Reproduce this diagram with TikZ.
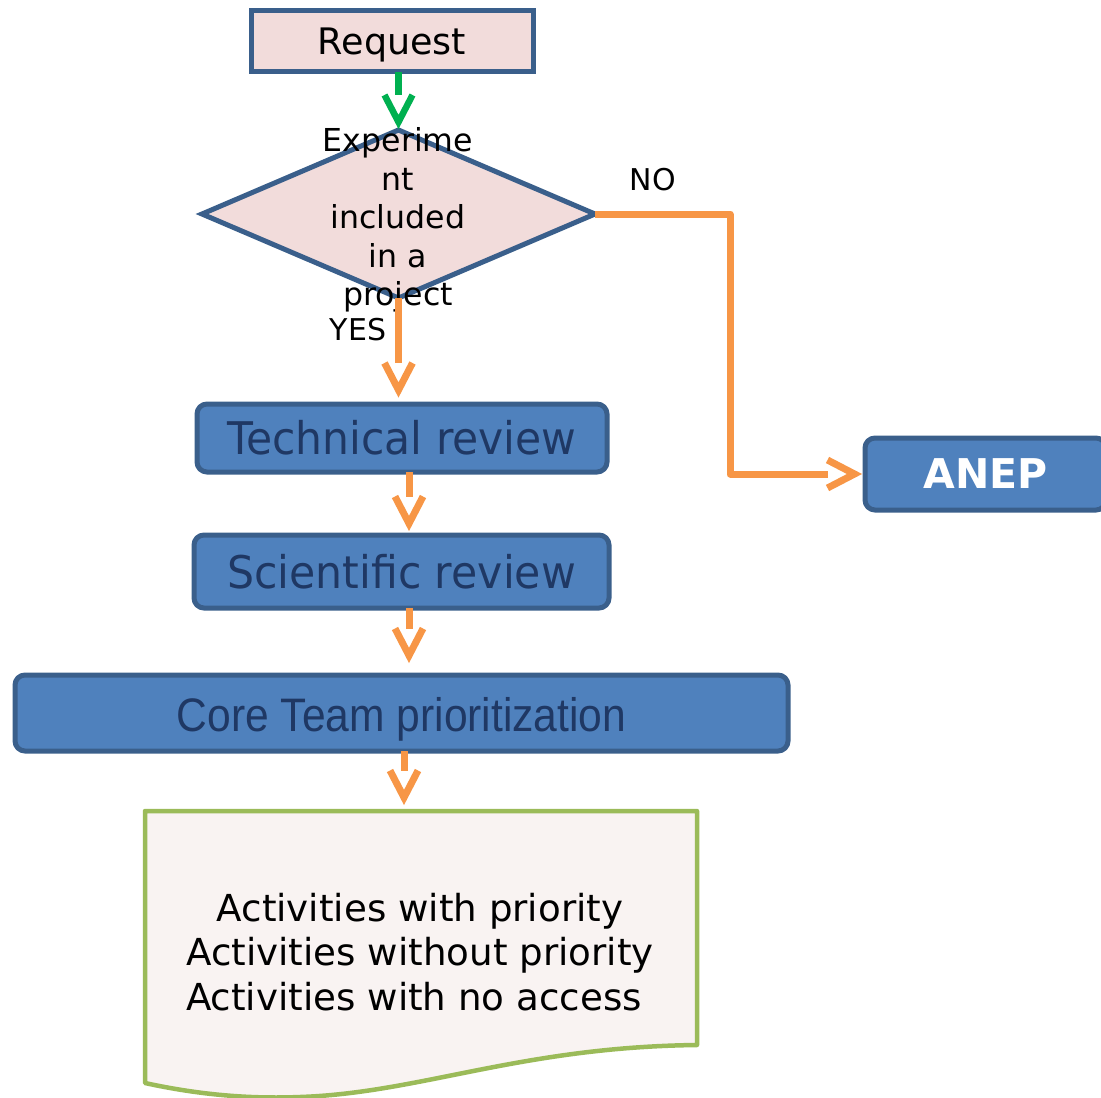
\documentclass[tikz,border=0pt]{standalone}
\usepackage{fontspec}
\setmainfont{DejaVu Sans}
\newfontfamily\arialf{Liberation Sans}
\usetikzlibrary{arrows.meta,shapes.geometric}
\definecolor{pinkfill}{HTML}{F2DCDB}
\definecolor{bordblue}{HTML}{3A5F8B}
\definecolor{boxblue}{HTML}{4F81BD}
\definecolor{navytext}{HTML}{1F3864}
\definecolor{orangeln}{HTML}{F79646}
\definecolor{greenln}{HTML}{00B050}
\definecolor{docgreen}{HTML}{9BBB59}
\definecolor{docfill}{HTML}{F9F3F2}

\pgfdeclarearrow{
  name = OpenV,
  parameters = {\the\pgfarrowlength,\the\pgfarrowwidth},
  setup code = {
    \pgfarrowssettipend{\pgfarrowlength}
    \pgfarrowssetbackend{0pt}
    \pgfarrowssetlineend{0pt}
    \pgfarrowssavethe\pgfarrowlength
    \pgfarrowssavethe\pgfarrowwidth
  },
  drawing code = {
    \pgfsetmiterjoin
    \pgfsetbuttcap
    \pgfpathmoveto{\pgfpoint{0pt}{.5\pgfarrowwidth}}
    \pgfpathlineto{\pgfpoint{\pgfarrowlength}{0pt}}
    \pgfpathlineto{\pgfpoint{0pt}{-.5\pgfarrowwidth}}
    \pgfusepathqstroke
  },
  defaults = {length=27pt, width=28pt}
}

\begin{document}
\begin{tikzpicture}[x=1pt,y=-1pt,
  every node/.style={inner sep=0pt, outer sep=0pt},
  flowbox/.style={draw=bordblue, line width=5pt, fill=boxblue, rounded corners=10pt},
  pinkbox/.style={draw=bordblue, line width=5pt, fill=pinkfill},
  lbl/.style={font=\fontsize{30}{35}\selectfont},
  oarrow/.style={draw=orangeln, line width=7pt, line join=round, -{OpenV}},
  garrow/.style={draw=greenln, line width=6.5pt, -{OpenV}}
]
\useasboundingbox (0,0) rectangle (1101,1098);

% nodes
\node[pinkbox, minimum width=282pt, minimum height=61pt, text depth=0pt,
      font=\fontsize{36.5}{43}\selectfont] (req) at (392,41) {Request};

\node[pinkbox, diamond, minimum width=393pt, minimum height=168pt] (dia) at (398.5,214) {};
\node[align=center, font=\fontsize{31.6}{38.5}\selectfont] (diatext) at (398,220)
  {Experime\\nt\\included\\in a\\project};

\node[lbl] (no) at (653,180) {NO};
\node[lbl] (yes) at (358,330) {YES};

\node[flowbox, minimum width=410pt, minimum height=68pt, text=navytext,
      font=\fontsize{45}{54}\selectfont] (tech) at (402,438)
  {\raisebox{-1.5pt}{\scalebox{0.944}[1]{Technical review}}};
\node[flowbox, minimum width=415pt, minimum height=73pt, text=navytext,
      font=\fontsize{45}{54}\selectfont] (sci) at (401.5,571.5)
  {\scalebox{0.947}[1]{Scientific review}};
\node[flowbox, minimum width=773pt, minimum height=76pt, text=navytext, text depth=0pt,
      font=\arialf\fontsize{47}{56}\selectfont] (core) at (401.5,713)
  {\raisebox{-2pt}{\scalebox{0.906}[1]{Core Team prioritization}}};
\node[flowbox, minimum width=241pt, minimum height=72pt, text=white,
      font=\bfseries\fontsize{41}{49}\selectfont] (anep) at (985.5,474) {ANEP};

% document shape
\path[draw=docgreen, line width=4.5pt, fill=docfill, line join=round]
  (145,811) -- (697,811) -- (697,1045)
  .. controls (520,1047) and (420,1093) .. (300,1097)
  .. controls (250,1099) and (200,1095) .. (145,1083) -- cycle;
\coordinate (doctop) at (404,811);
\node[align=center, font=\fontsize{37.2}{44.5}\selectfont] (doc) at (420,952)
  {Activities with priority\\Activities without priority\\Activities with no access\hspace*{12pt}};

% connectors
\coordinate (bend) at (730,214);
\draw[garrow, shorten >=8pt] (req.south -| dia.north) -- (dia.north);
\draw[oarrow, shorten >=14pt] (dia.south) -- (dia.south |- tech.north);
\draw[oarrow, shorten >=10.5pt] (dia.east) -- (bend) |- (anep.west);
\draw[oarrow, shorten >=11.5pt] ([xshift=7pt]tech.south) -- ([xshift=7pt]tech.south |- sci.north);
\draw[oarrow, shorten >=19.5pt] ([xshift=7.5pt]sci.south) -- ([xshift=7.5pt]sci.south |- core.north);
\draw[oarrow, shorten >=13.5pt] (core.south -| doctop) -- (doctop);
\end{tikzpicture}
\end{document}
